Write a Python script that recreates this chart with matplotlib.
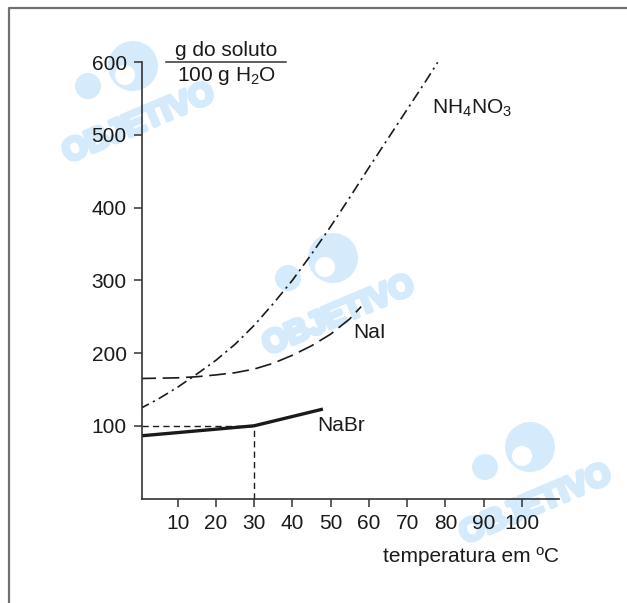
import matplotlib.pyplot as plt
import matplotlib.patheffects as pe
from matplotlib.patches import Circle

plt.rcParams['font.family'] = ['Liberation Sans', 'DejaVu Sans']
plt.rcParams['mathtext.fontset'] = 'custom'
plt.rcParams['mathtext.rm'] = 'Liberation Sans'
plt.rcParams['mathtext.it'] = 'Liberation Sans:italic'

# solubility curves (g per 100 g water)
t_nh4no3 = [0, 5, 10, 15, 20, 25, 30, 35, 40, 45, 50, 55, 60, 65, 70, 75, 78]
s_nh4no3 = [123, 137, 153, 171, 190, 212, 238, 268, 300, 336, 374, 414, 455, 495, 535, 575, 600]

t_nai = [0, 5, 10, 15, 20, 25, 30, 35, 40, 45, 50, 55, 58]
s_nai = [165, 165.5, 166, 167.5, 170, 173, 178, 186, 197, 210, 226, 247, 264]

t_nabr = [0, 30, 48]
s_nabr = [86, 100, 123]

xticks = [10, 20, 30, 40, 50, 60, 70, 80, 90, 100]
yticks = [100, 200, 300, 400, 500, 600]

W, H = 627, 603
fig = plt.figure(figsize=(W / 100, H / 100), dpi=100)

# background layer in pixel coords: frame + watermarks
bg = fig.add_axes([0, 0, 1, 1])
bg.set_xlim(0, W)
bg.set_ylim(H, 0)
bg.axis('off')
bg.plot([8.5, 8.5, W], [H, 8.3, 8.3], color='#707070', lw=1.6)

wm = '#d5ebfb'
for cx, cy, word in [(133, 66, True), (333, 258, True), (530, 447, True), (135, 628, False)]:
    bg.add_patch(Circle((cx, cy), 25, color=wm, lw=0))
    bg.add_patch(Circle((cx - 8, cy + 9), 10, color='white', lw=0))
    bg.add_patch(Circle((cx - 45, cy + 20), 13, color=wm, lw=0))
    if word:
        bg.text(cx + 6, cy + 58, 'OBJETIVO', color=wm, fontsize=23, fontweight='bold',
                rotation=23, ha='center', va='center',
                path_effects=[pe.withStroke(linewidth=3, foreground=wm)])

ink = '#1a1a1a'
ax = fig.add_axes([142 / W, 1 - 498.5 / H, (559.3 - 142) / W, (498.5 - 62.3) / H])
ax.patch.set_alpha(0)
ax.set_xlim(0.7, 109.8)
ax.set_ylim(0, 600)
for s in ['top', 'right']:
    ax.spines[s].set_visible(False)
for s in ['left', 'bottom']:
    ax.spines[s].set_color('#333333')
    ax.spines[s].set_linewidth(1.2)
ax.set_xticks(xticks)
ax.set_yticks(yticks)
ax.tick_params(direction='out', length=6, width=1.1, color='#333333',
               labelsize=15, labelcolor=ink, pad=5)

ax.plot(t_nh4no3, s_nh4no3, color=ink, lw=1.2, dashes=(6.5, 2.7, 1.3, 2.7))
ax.plot(t_nai, s_nai, color=ink, lw=1.2, dashes=(10, 4))
ax.plot(t_nabr, s_nabr, color=ink, lw=2.4, solid_capstyle='butt')
# guide lines to (30, 100)
ax.plot([0.7, t_nabr[1]], [s_nabr[1], s_nabr[1]], color=ink, lw=1.0, dashes=(4.5, 3))
ax.plot([t_nabr[1], t_nabr[1]], [0, s_nabr[1]], color=ink, lw=1.0, dashes=(4.5, 3))

ax.text(76.5, 537, r'NH$_4$NO$_3$', fontsize=15, color=ink, va='center')
ax.text(55.9, 229, 'NaI', fontsize=15, color=ink, va='center')
ax.text(46.4, 100, 'NaBr', fontsize=15, color=ink, va='center')

ax.set_xlabel('temperatura em ºC', loc='right', fontsize=15, color=ink, labelpad=10)

# y unit as a fraction
bg.text(226.5, 50, 'g do soluto', fontsize=15, color=ink, ha='center', va='center')
bg.plot([166, 286], [62.3, 62.3], color='#333333', lw=1.1)
bg.text(226.5, 76, r'100 g H$_2$O', fontsize=15, color=ink, ha='center', va='center')

plt.savefig('out.png', dpi=100)
